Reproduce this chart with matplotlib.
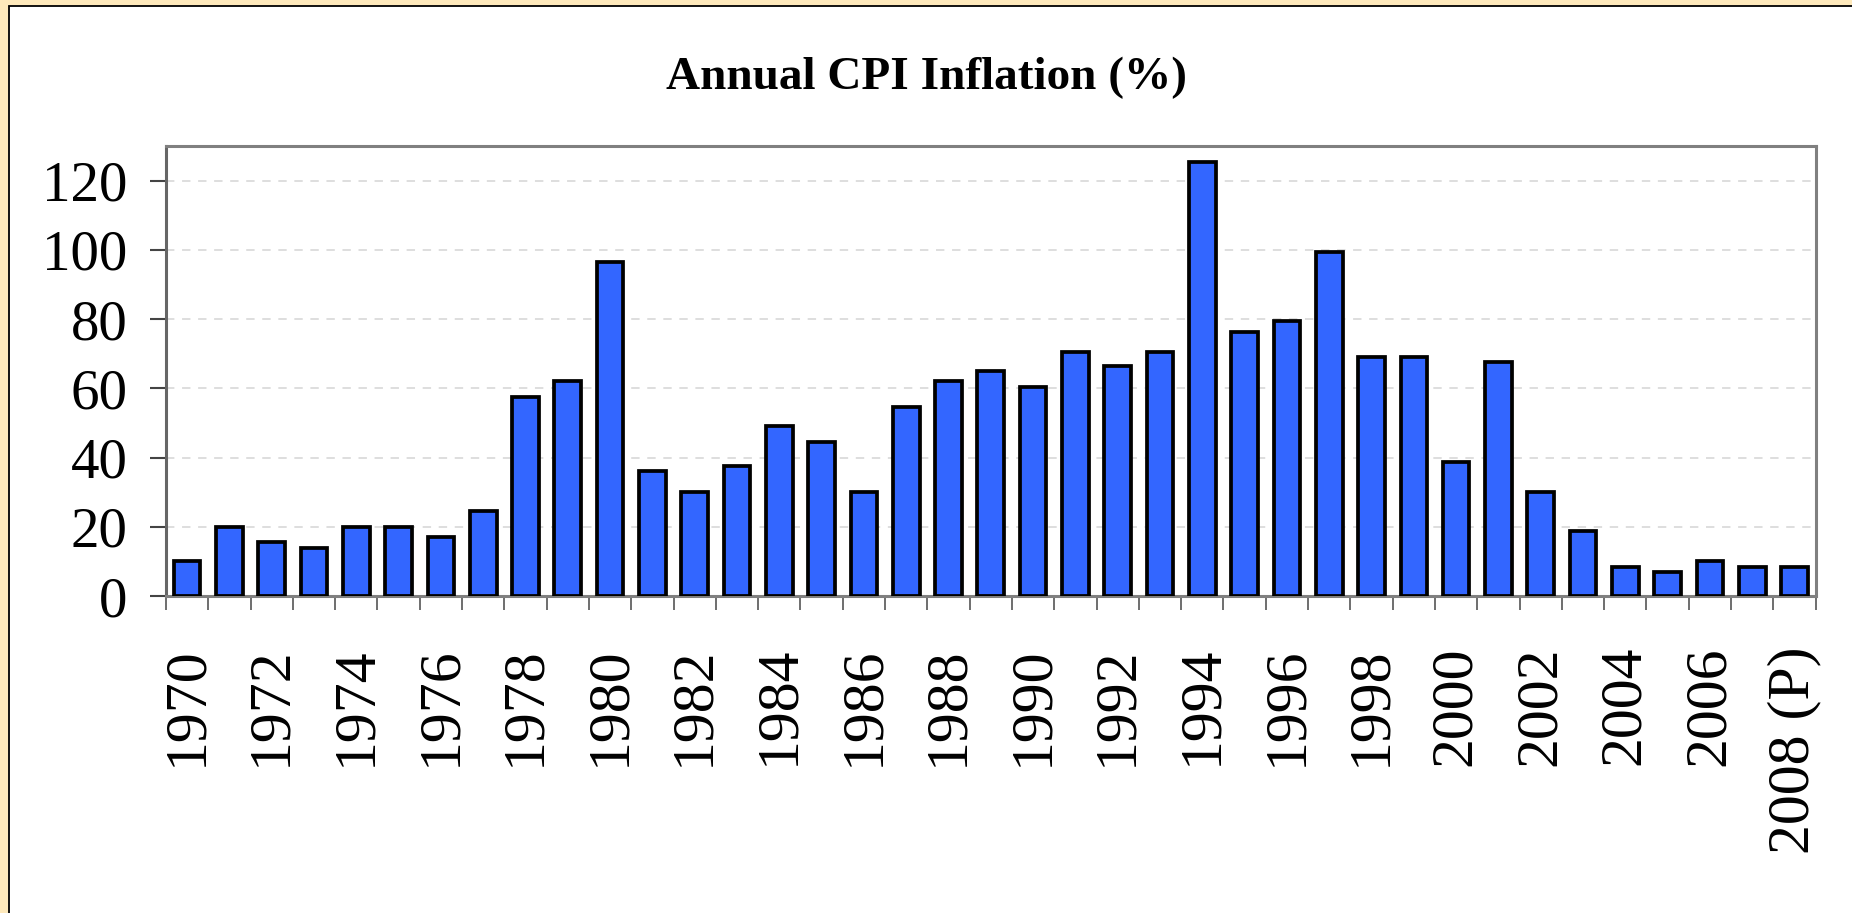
import matplotlib.pyplot as plt
from matplotlib.patches import Rectangle

anos = list(range(1970, 2009))
inflacao = [10, 20, 15.5, 14, 20, 20, 17, 24.5,
            57.5, 62, 96.5, 36, 30, 37.5, 49, 44.5, 30, 54.5, 62, 65, 60.5, 70.5, 66.3, 70.5,
            125.5, 76.3, 79.3, 99.5, 69, 69, 38.8, 67.7, 30, 18.7, 8.5, 7, 10, 8.5, 8.5]
rotulos = [str(a) if a % 2 == 0 else "" for a in anos]
rotulos[-1] = "2008 (P)"

plt.rcParams['font.family'] = ['Liberation Serif', 'DejaVu Serif']

fig = plt.figure(figsize=(18.52, 9.13), dpi=100)
fig.patch.set_facecolor('#FEE9BB')

# moldura branca com borda preta
fig.patches.append(Rectangle((9 / 1852, -0.1), 1.2, 1 - 6 / 913 + 0.1,
                             transform=fig.transFigure, facecolor='white',
                             edgecolor='black', linewidth=1.3, zorder=-5))

ax = fig.add_axes([0.0896, 0.3472, 0.8908, 0.4929])
ax.set_zorder(2)
x = list(range(len(anos)))
ax.bar(x, inflacao, width=0.63, color='#3366FF', edgecolor='black', linewidth=2.7, zorder=3)

ax.set_xlim(-0.5, len(anos) - 0.5)
ax.set_ylim(0, 130)
ax.set_yticks(range(0, 121, 20))
ax.set_xticks(x)
ax.set_xticklabels(rotulos, rotation=90, fontsize=43)
ax.set_xticks([i - 0.5 for i in range(len(anos) + 1)], minor=True)
ax.tick_params(axis='x', which='major', length=0, pad=36)
ax.tick_params(axis='x', which='minor', length=10, width=1.2, color='#555555', direction='out')
ax.tick_params(axis='y', length=11.5, width=1.5, color='#444444', labelsize=41, pad=16)

ax.set_axisbelow(True)
ax.yaxis.grid(True, color='#D5D5D5', linestyle=(0, (5.5, 5)), linewidth=1.1)

for lado in ['top', 'right', 'bottom']:
    ax.spines[lado].set_color('#808080')
    ax.spines[lado].set_linewidth(2.2)
ax.spines['left'].set_color('#666666')
ax.spines['left'].set_linewidth(2.2)

fig.text(0.5, 0.915, "Annual CPI Inflation (%)", ha='center', va='center',
         fontsize=34, fontweight='bold')

plt.savefig("out.png", dpi=100, facecolor=fig.get_facecolor())
